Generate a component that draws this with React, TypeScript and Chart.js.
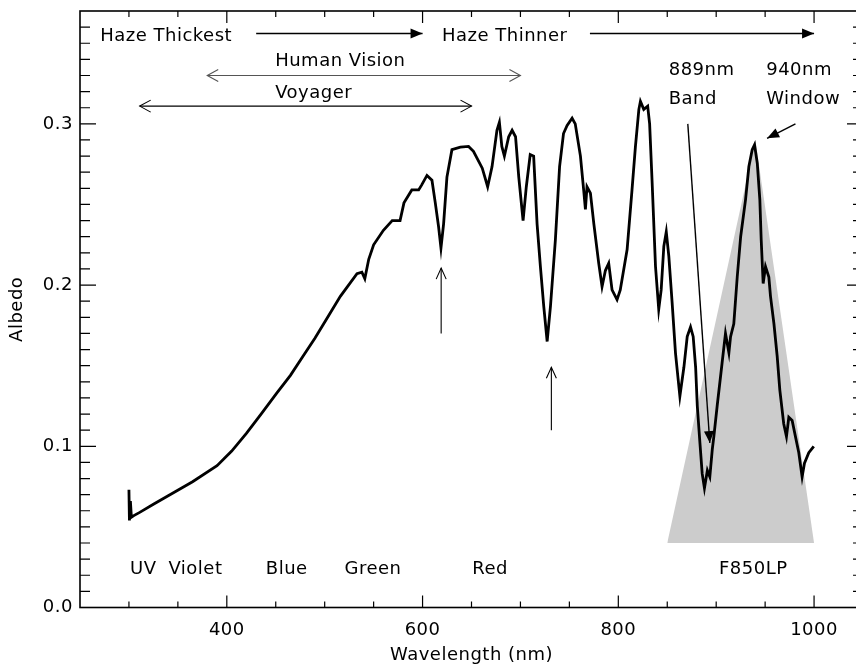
import { useEffect, useRef } from 'react';
import { Chart, registerables } from 'chart.js';

Chart.register(...registerables);

// ---------- data ----------
const wavelengths = [
  300.0, 300.5, 301.5, 302.5, 305, 311, 325, 345, 365, 390, 405, 420, 435, 451, 465, 478, 490, 499, 516, 533,
  538, 541, 545, 550, 560, 569, 577, 581, 589, 596, 599, 604.5, 609.6, 613, 616.4, 618.8, 621.5, 624.9, 630, 638.6,
  647, 652, 661, 666.5, 671, 676, 678.5, 681, 683.6, 688, 691.5, 695, 698.3, 702.7, 706, 710, 713.5, 717, 720.4, 723.8,
  727.3, 730.7, 735.7, 740, 744, 747.7, 752.8, 756, 761.3, 764.6, 766.4, 768, 771.5, 775, 780, 783.4, 786.8, 790.2, 793.6, 798.7,
  802, 809, 814, 817.5, 821, 822.6, 826, 830, 832, 834.6, 838, 841.3, 843.8, 846.5, 849, 851.6, 855, 858.4, 862.9, 867,
  870.4, 873.8, 876.5, 879, 880.7, 883.4, 885.7, 888, 891, 893.5, 896, 897.6, 901, 906, 909.5, 913, 914.7, 918, 921.5, 925,
  930, 933.4, 936.8, 939.2, 942, 944.6, 946, 948, 950.4, 953.8, 955.5, 959, 962.3, 965, 969, 971.8, 974.2, 977.6, 981, 984.4,
  987.8, 990.2, 994.6, 999.7,
];
const albedo = [
  0.073, 0.054, 0.066, 0.056, 0.057, 0.059, 0.064, 0.071, 0.078, 0.088, 0.097, 0.108, 0.120, 0.133, 0.144, 0.156, 0.167, 0.176, 0.193, 0.207,
  0.208, 0.204, 0.216, 0.225, 0.234, 0.240, 0.240, 0.251, 0.259, 0.259, 0.262, 0.268, 0.265, 0.251, 0.236, 0.223, 0.238, 0.267, 0.284, 0.2855,
  0.286, 0.283, 0.2725, 0.261, 0.2735, 0.296, 0.301, 0.286, 0.280, 0.292, 0.296, 0.292, 0.267, 0.240, 0.261, 0.281, 0.280, 0.238, 0.2115, 0.187,
  0.165, 0.187, 0.228, 0.2735, 0.294, 0.299, 0.3035, 0.300, 0.280, 0.259, 0.247, 0.261, 0.257, 0.238, 0.2135, 0.199, 0.209, 0.2135, 0.197, 0.191,
  0.197, 0.222, 0.259, 0.286, 0.309, 0.314, 0.309, 0.311, 0.300, 0.263, 0.2115, 0.185, 0.197, 0.224, 0.233, 0.218, 0.189, 0.158, 0.131, 0.149,
  0.168, 0.174, 0.168, 0.149, 0.125, 0.102, 0.083, 0.074, 0.085, 0.081, 0.098, 0.106, 0.125, 0.1515, 0.170, 0.158, 0.168, 0.176, 0.205, 0.230,
  0.253, 0.2735, 0.284, 0.287, 0.2755, 0.253, 0.228, 0.201, 0.2115, 0.205, 0.193, 0.176, 0.156, 0.135, 0.114, 0.106, 0.118, 0.116, 0.106, 0.096,
  0.081, 0.0895, 0.096, 0.100,
];

// F850LP filter response (triangle)
const filterWavelengths = [850, 940, 1000];
const filterLevels = [0.04, 0.29, 0.04];
const filterBase = 0.04;

// axes
const xMin = 250;
const xMax = 1050;
const yMin = 0;
const yMax = 0.37;
const xTickValues = [400, 600, 800, 1000];
const yTickValues = [0.0, 0.1, 0.2, 0.3];

// text annotations (left x in nm, centre y in albedo)
const noteTexts = ['Haze Thickest', 'Haze Thinner', 'Human Vision', 'Voyager', '889nm', 'Band', '940nm', 'Window',
  'UV', 'Violet', 'Blue', 'Green', 'Red', 'F850LP'];
const noteX = [270.6, 619.8, 449.4, 449.4, 851.5, 851.5, 951.1, 951.1, 301.1, 340.3, 439.9, 520.2, 650.8, 902.8];
const noteY = [0.354, 0.354, 0.3387, 0.319, 0.3335, 0.315, 0.3335, 0.315, 0.0236, 0.0236, 0.0236, 0.0236, 0.0236, 0.0236];

// arrows (from -> to, in data units); kind: filled head, open head, double open head
const arrowX1 = [430, 771, 380, 311, 619, 731.6, 871, 981];
const arrowY1 = [0.356, 0.356, 0.33, 0.311, 0.170, 0.110, 0.300, 0.300];
const arrowX2 = [600, 1000, 700, 650, 619, 731.6, 893.5, 952];
const arrowY2 = [0.356, 0.356, 0.33, 0.311, 0.2105, 0.149, 0.102, 0.291];
const arrowKind = ['filled', 'filled', 'double', 'double', 'open', 'open', 'filled', 'filled'];

const FONT_FAMILY = '"DejaVu Sans", sans-serif';
const FONT_SIZE = 18;
const LETTER_SPACING = '0.5px';

function filledHead(ctx: CanvasRenderingContext2D, x1: number, y1: number, x2: number, y2: number, len: number, half: number) {
  const a = Math.atan2(y2 - y1, x2 - x1);
  const bx = x2 - len * Math.cos(a);
  const by = y2 - len * Math.sin(a);
  ctx.beginPath();
  ctx.moveTo(x2, y2);
  ctx.lineTo(bx + half * Math.sin(a), by - half * Math.cos(a));
  ctx.lineTo(bx - half * Math.sin(a), by + half * Math.cos(a));
  ctx.closePath();
  ctx.fill();
}

function openHead(ctx: CanvasRenderingContext2D, x1: number, y1: number, x2: number, y2: number, len: number, half: number) {
  const a = Math.atan2(y2 - y1, x2 - x1);
  const bx = x2 - len * Math.cos(a);
  const by = y2 - len * Math.sin(a);
  ctx.beginPath();
  ctx.moveTo(bx + half * Math.sin(a), by - half * Math.cos(a));
  ctx.lineTo(x2, y2);
  ctx.lineTo(bx - half * Math.sin(a), by + half * Math.cos(a));
  ctx.stroke();
}

const decorPlugin = {
  id: 'decor',
  beforeDraw(chart: any) {
    try {
      (chart.ctx as any).letterSpacing = LETTER_SPACING;
    } catch (e) {
      /* ignore */
    }
  },
  afterDatasetsDraw(chart: any) {
    const { ctx, chartArea: a, scales } = chart;
    const xs = scales.x;
    const ys = scales.y;
    ctx.save();
    ctx.strokeStyle = '#000';
    ctx.fillStyle = '#000';

    // frame
    ctx.lineWidth = 1.6;
    ctx.strokeRect(a.left, a.top, a.right - a.left, a.bottom - a.top);

    // inward tick marks
    ctx.lineWidth = 1.2;
    ctx.beginPath();
    for (let v = xMin + 50; v < xMax; v += 50) {
      const px = xs.getPixelForValue(v);
      const len = xTickValues.includes(v) ? 12 : 6;
      ctx.moveTo(px, a.bottom);
      ctx.lineTo(px, a.bottom - len);
      ctx.moveTo(px, a.top);
      ctx.lineTo(px, a.top + len);
    }
    for (let i = 1; i < 37; i++) {
      const v = i / 100;
      const py = ys.getPixelForValue(v);
      const len = i % 10 === 0 ? 16 : 10;
      ctx.moveTo(a.left, py);
      ctx.lineTo(a.left + len, py);
      ctx.moveTo(a.right, py);
      ctx.lineTo(a.right - len, py);
    }
    ctx.stroke();

    // arrows
    for (let i = 0; i < arrowX1.length; i++) {
      const x1 = xs.getPixelForValue(arrowX1[i]);
      const y1 = ys.getPixelForValue(arrowY1[i]);
      const x2 = xs.getPixelForValue(arrowX2[i]);
      const y2 = ys.getPixelForValue(arrowY2[i]);
      const kind = arrowKind[i];
      ctx.strokeStyle = kind === 'double' && i === 2 ? '#555' : '#000';
      ctx.fillStyle = '#000';
      ctx.lineWidth = kind === 'filled' ? 1.4 : 1.1;
      ctx.beginPath();
      ctx.moveTo(x1, y1);
      ctx.lineTo(x2, y2);
      ctx.stroke();
      if (kind === 'filled') {
        filledHead(ctx, x1, y1, x2, y2, 12, 5);
      } else if (kind === 'open') {
        openHead(ctx, x1, y1, x2, y2, 11, 5);
      } else {
        openHead(ctx, x1, y1, x2, y2, 11, 6);
        openHead(ctx, x2, y2, x1, y1, 11, 6);
      }
    }

    // texts
    ctx.fillStyle = '#000';
    ctx.font = `${FONT_SIZE}px ${FONT_FAMILY}`;
    ctx.textAlign = 'left';
    ctx.textBaseline = 'middle';
    for (let i = 0; i < noteTexts.length; i++) {
      ctx.fillText(noteTexts[i], xs.getPixelForValue(noteX[i]), ys.getPixelForValue(noteY[i]));
    }
    ctx.restore();
  },
};

export default function App() {
  const canvasRef = useRef<HTMLCanvasElement | null>(null);

  useEffect(() => {
    const canvas = canvasRef.current;
    if (!canvas) return;
    const chart = new Chart(canvas, {
      type: 'line',
      data: {
        datasets: [
          {
            label: 'Albedo',
            data: wavelengths.map((w, i) => ({ x: w, y: albedo[i] })),
            borderColor: '#000',
            borderWidth: 2.8,
            pointRadius: 0,
            tension: 0,
            fill: false,
          },
          {
            label: 'F850LP',
            data: filterWavelengths.map((w, i) => ({ x: w, y: filterLevels[i] })),
            borderColor: '#cccccc',
            backgroundColor: '#cccccc',
            borderWidth: 0,
            pointRadius: 0,
            tension: 0,
            fill: { value: filterBase },
          },
        ],
      },
      options: {
        animation: false,
        responsive: true,
        maintainAspectRatio: false,
        devicePixelRatio: 1,
        layout: { padding: { top: 11, right: 1, left: 0, bottom: 0 } },
        plugins: {
          legend: { display: false },
          tooltip: { enabled: false },
        },
        font: { family: FONT_FAMILY, size: FONT_SIZE },
        scales: {
          x: {
            type: 'linear',
            min: xMin,
            max: xMax,
            grid: { display: false, drawTicks: false },
            border: { display: false },
            afterBuildTicks: (scale: any) => {
              scale.ticks = xTickValues.map((v) => ({ value: v }));
            },
            afterFit: (scale: any) => {
              scale.height = 61.5;
              scale.paddingLeft = 0;
              scale.paddingRight = 0;
              scale.paddingTop = 0;
              scale.paddingBottom = 0;
            },
            ticks: {
              color: '#000',
              padding: 12,
              font: { family: FONT_FAMILY, size: FONT_SIZE },
              callback: (v: any) => String(v),
              maxRotation: 0,
              autoSkip: false,
            },
            title: {
              display: true,
              text: 'Wavelength (nm)',
              color: '#000',
              font: { family: FONT_FAMILY, size: FONT_SIZE },
              padding: { top: 0, bottom: 3 },
            },
          },
          y: {
            type: 'linear',
            min: yMin,
            max: yMax,
            grid: { display: false, drawTicks: false },
            border: { display: false },
            afterBuildTicks: (scale: any) => {
              scale.ticks = yTickValues.map((v) => ({ value: v }));
            },
            afterFit: (scale: any) => {
              scale.width = 80;
              scale.paddingLeft = 0;
              scale.paddingRight = 0;
              scale.paddingTop = 0;
              scale.paddingBottom = 0;
            },
            ticks: {
              color: '#000',
              padding: 7,
              font: { family: FONT_FAMILY, size: FONT_SIZE },
              callback: (v: any) => Number(v).toFixed(1),
              autoSkip: false,
            },
            title: {
              display: true,
              text: 'Albedo',
              color: '#000',
              font: { family: FONT_FAMILY, size: FONT_SIZE },
              padding: { top: 7, bottom: 0 },
            },
          },
        },
      } as any,
      plugins: [decorPlugin],
    });
    return () => chart.destroy();
  }, []);

  return (
    <div style={{ position: 'fixed', left: 0, top: 0, width: 856, height: 669, overflow: 'hidden', background: '#fff' }}>
      <div style={{ position: 'absolute', left: 0, top: 0, width: 864, height: 669 }}>
        <canvas ref={canvasRef} />
      </div>
    </div>
  );
}
